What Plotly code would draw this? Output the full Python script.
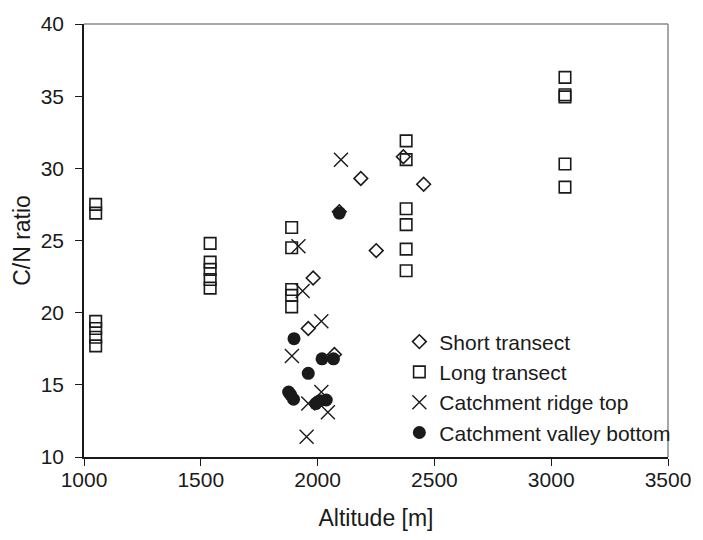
import plotly.graph_objects as go

# ---- data ----
short_alt = [1960, 1981, 2072, 2093, 2185, 2251, 2367, 2454]
short_cn = [18.9, 22.4, 17.1, 27.0, 29.3, 24.3, 30.8, 28.9]

long_alt = [1050, 1050, 1050, 1050, 1050, 1050,
            1540, 1540, 1540, 1540, 1540,
            1889, 1889, 1889, 1889, 1889,
            2379, 2379, 2379, 2379, 2379, 2379,
            3059, 3059, 3059, 3059, 3059]
long_cn = [27.5, 26.9, 19.4, 18.9, 18.3, 17.7,
           24.8, 23.5, 23.0, 22.3, 21.7,
           25.9, 24.5, 21.6, 21.2, 20.4,
           31.9, 30.6, 27.2, 26.1, 24.4, 22.9,
           36.3, 35.1, 34.95, 30.3, 28.7]

ridge_alt = [1918, 1936, 2016, 1890, 2016, 1960, 2044, 1953, 2100]
ridge_cn = [24.6, 21.5, 19.4, 17.0, 14.5, 13.7, 13.1, 11.4, 30.6]

valley_alt = [2093, 1899, 2019, 2068, 1960, 1876, 1885, 1897, 1992, 2037, 2010]
valley_cn = [26.9, 18.2, 16.8, 16.8, 15.8, 14.5, 14.3, 14.0, 13.7, 13.95, 13.9]

x_ticks = [1000, 1500, 2000, 2500, 3000, 3500]
y_ticks = [10, 15, 20, 25, 30, 35, 40]

INK = "#1a1a1a"
FONT = "Liberation Sans, Arial, Helvetica, sans-serif"

fig = go.Figure()
fig.add_trace(go.Scatter(x=short_alt, y=short_cn, mode="markers", name="Short transect",
                         marker=dict(symbol="diamond-open", size=10.5, color=INK, line=dict(width=1.6, color=INK))))
fig.add_trace(go.Scatter(x=long_alt, y=long_cn, mode="markers", name="Long transect",
                         marker=dict(symbol="square-open", size=11.5, color=INK, line=dict(width=1.6, color=INK))))
fig.add_trace(go.Scatter(x=ridge_alt, y=ridge_cn, mode="markers", name="Catchment ridge top",
                         marker=dict(symbol="x-thin-open", size=14, color=INK, line=dict(width=1.4, color=INK))))
fig.add_trace(go.Scatter(x=valley_alt, y=valley_cn, mode="markers", name="Catchment valley bottom",
                         marker=dict(symbol="circle", size=13, color=INK, line=dict(width=0))))

fig.update_layout(
    width=703, height=540,
    margin=dict(l=84, r=26, t=19, b=83),
    paper_bgcolor="white", plot_bgcolor="white",
    font=dict(family=FONT, size=21, color=INK),
    showlegend=True,
    legend=dict(x=0.54, y=0.313, xanchor="left", yanchor="top",
                bgcolor="rgba(0,0,0,0)", borderwidth=0,
                font=dict(size=21, family=FONT, color=INK),
                itemwidth=30, tracegroupgap=0),
    shapes=[
        dict(type="line", xref="paper", yref="paper", x0=0, x1=1, y0=1, y1=1,
             line=dict(color="#8a8a8a", width=1.5)),
        dict(type="line", xref="paper", yref="paper", x0=1, x1=1, y0=0, y1=1,
             line=dict(color="#8a8a8a", width=1.5)),
    ],
)

fig.update_xaxes(range=[1000, 3500], tickvals=x_ticks, ticktext=[str(v) for v in x_ticks],
                 showgrid=False, zeroline=False, showline=True, linecolor=INK, linewidth=1.5,
                 ticks="outside", ticklen=7, tickwidth=1.2, tickcolor=INK,
                 ticklabelstandoff=-4,
                 title=dict(text="Altitude [m]", font=dict(size=23, family=FONT, color=INK), standoff=20))
fig.update_yaxes(range=[10, 40], tickvals=y_ticks, ticktext=[str(v) for v in y_ticks],
                 showgrid=False, zeroline=False, showline=True, linecolor=INK, linewidth=1.5,
                 ticks="outside", ticklen=7, tickwidth=1.2, tickcolor=INK,
                 ticklabelstandoff=7,
                 title=dict(text="C/N ratio", font=dict(size=23, family=FONT, color=INK), standoff=4))

fig.write_html("out.html")
